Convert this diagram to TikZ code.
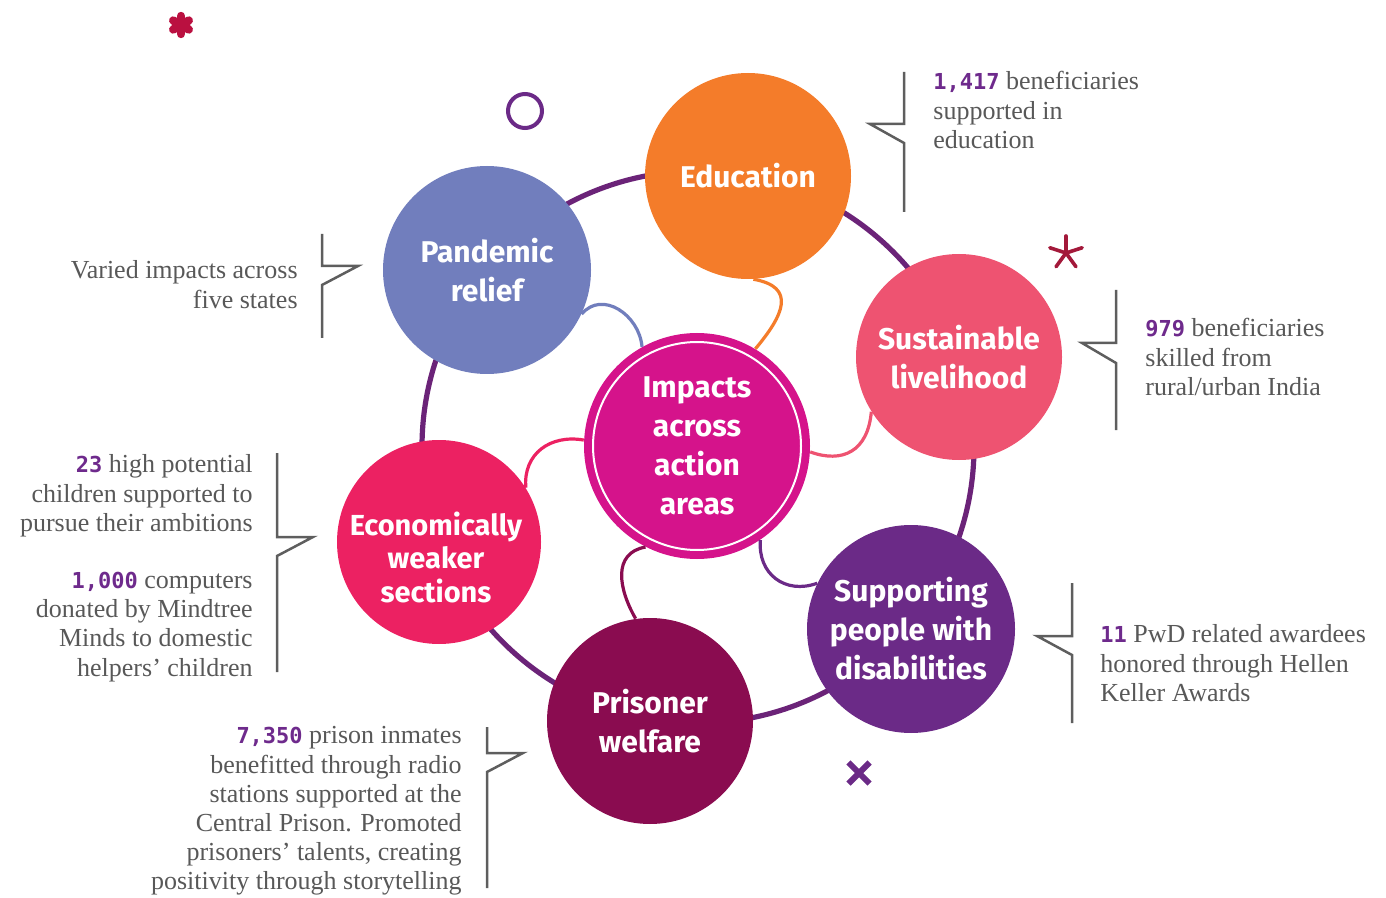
\documentclass[tikz,border=0pt]{standalone}
\usepackage{fontspec}
\setmainfont{Liberation Serif}
\newfontfamily\areafont{Fira Sans}
\newfontfamily\numfont{DejaVu Sans Mono}
\definecolor{ringpurple}{HTML}{6B2378}
\definecolor{educol}{HTML}{F47C2A}
\definecolor{sustcol}{HTML}{EE5371}
\definecolor{discol}{HTML}{6B2A87}
\definecolor{priscol}{HTML}{8A0C50}
\definecolor{econcol}{HTML}{EC2162}
\definecolor{pandcol}{HTML}{717EBD}
\definecolor{hubcol}{HTML}{D5138B}
\definecolor{notegray}{HTML}{585858}
\definecolor{bracegray}{HTML}{5E5E5E}
\definecolor{numpurple}{HTML}{6E2A8C}
\definecolor{starred}{HTML}{BA1040}
\definecolor{sparkred}{HTML}{A3193A}
\newcommand\impnum[1]{{\numfont\bfseries\fontsize{11}{14.6}\selectfont\color{numpurple}#1}}
\usetikzlibrary{positioning}
\begin{document}
\begin{tikzpicture}[x=0.5pt, y=-0.5pt,
  area/.style={circle, minimum size=103pt, inner sep=0pt, text=white, align=center, font=\areafont\bfseries\fontsize{15}{19.5}\selectfont},
  link/.style={line width=1.6pt},
  note/.style={inner sep=0pt, text=notegray, font=\fontsize{13}{14.6}\selectfont},
  brace/.style={draw=bracegray, line width=1.25pt},
  ring/.style={draw=ringpurple, line width=2.6pt}]
\useasboundingbox (0,0) rectangle (1386,898);

\path[ring] (698,447) circle[radius=138pt];

\node[area, fill=educol] (edu) at (748,176) {Education};
\node[area, fill=sustcol] (sust) at (959,357) {Sustainable\\livelihood};
\node[area, fill=discol, minimum size=104pt] (dis) at (911,629) {Supporting\\people with\\disabilities};
\node[area, fill=priscol] (pris) at (650,721) {Prisoner\\welfare};
\node[area, fill=econcol, minimum size=102pt] (econ) at (439,542) {};
\node[text=white, align=center, font=\areafont\bfseries\fontsize{14.5}{16.75}\selectfont] (econtext) at (436,557) {Economically\\weaker\\sections};
\node[area, fill=pandcol, minimum size=104pt] (pand) at (487,270) {Pandemic\\relief};
\node[area, fill=hubcol, minimum size=113pt] (hub) at (697,446) {Impacts\\across\\action\\areas};
\path[draw=white, line width=1pt] (hub) circle[radius=52pt];

\path[draw=educol, link] (edu.-87) .. controls +(-10:22pt) and +(50:22pt) .. (hub.59);
\path[draw=pandcol, link] (pand.-25) .. controls +(50:16pt) and +(95:16pt) .. (hub.119);
\path[draw=sustcol, link] (sust.212) .. controls +(-95:20pt) and +(-20:17pt) .. (hub.-3);
\path[draw=econcol, link] (econ.32) .. controls +(95:17pt) and +(170:17pt) .. (hub.177);
\path[draw=priscol, link] (hub.243) .. controls +(190:17pt) and +(120:17pt) .. (pris.98);
\path[draw=discol, link] (hub.-56) .. controls +(-95:17pt) and +(200:17pt) .. (dis.154);

\path[brace] (322,234) -- (322,266) -- (358,266) -- (322,285) -- (322,338);
\path[brace] (904,72) -- (904,124) -- (870,124) -- (904,143) -- (904,212);
\path[brace] (1116,290) -- (1116,343) -- (1082,343) -- (1116,363) -- (1116,430);
\path[brace] (277,453) -- (277,537) -- (313,537) -- (277,556) -- (277,672);
\path[brace] (487,727) -- (487,753) -- (523,753) -- (487,772) -- (487,888);
\path[brace] (1072,583) -- (1072,636) -- (1037,636) -- (1072,655) -- (1072,723);

\node[note, anchor=north east, align=right] (pandnote) at (298,258) {\strut Varied impacts across\\five states};
\node[note, anchor=north west, align=left] (edunote) at (933,69) {\strut\impnum{1,417} beneficiaries\\supported in\\education};
\node[note, anchor=north west, align=left] (sustnote) at (1145,316) {\strut\impnum{979} beneficiaries\\skilled from\\rural/urban India};
\node[note, anchor=north east, align=right] (econnote) at (253,452) {\strut\impnum{23} high potential\\children supported to\\pursue their ambitions\\[14pt]\impnum{1,000} computers\\donated by Mindtree\\Minds to domestic\\helpers’ children};
\node[note, anchor=north east, align=right] (prisnote) at (462,723) {\strut\impnum{7,350} prison inmates\\benefitted through radio\\stations supported at the\\Central Prison. Promoted\\prisoners’ talents, creating\\positivity through storytelling};
\node[note, anchor=north west, align=left] (disnote) at (1100,622) {\strut\impnum{11} PwD related awardees\\honored through Hellen\\Keller Awards};

\coordinate (bigstar) at (181,25);
\foreach \a/\b in {90/270,30/210,150/330}
  \path[draw=starred, line width=4.2pt, line cap=round] (bigstar) ++(\a:4.5pt) -- ++(\b:9pt);
\coordinate (spark) at (1066,253);
\foreach \a in {90,18,162,234,306}
  \path[draw=sparkred, line width=1.8pt, line cap=round] (spark) -- ++(\a:8.5pt);
\path[draw=discol, line width=2pt] (525,111) circle[radius=8.5pt];
\coordinate (cross) at (859,773);
\path[draw=discol, line width=3pt] (cross) ++(45:7.5pt) -- ++(225:15pt);
\path[draw=discol, line width=3pt] (cross) ++(135:7.5pt) -- ++(315:15pt);
\end{tikzpicture}
\end{document}
